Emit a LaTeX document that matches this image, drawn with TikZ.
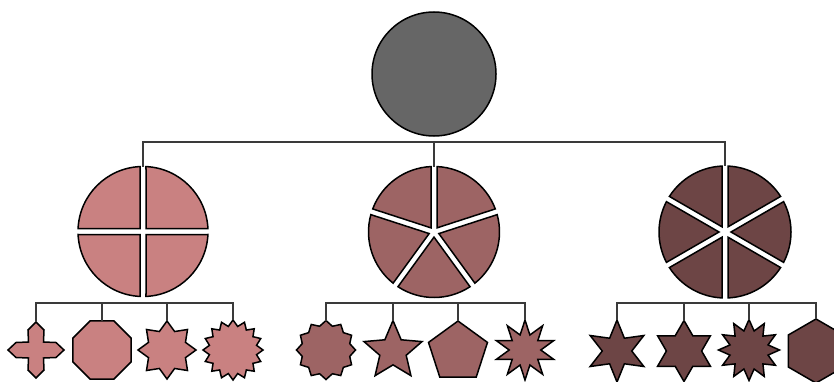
\documentclass[tikz,border=0pt]{standalone}
\usetikzlibrary{shapes.geometric}

\definecolor{rootgray}{HTML}{666666}
\definecolor{tonea}{HTML}{C98181}
\definecolor{toneb}{HTML}{9D6464}
\definecolor{tonec}{HTML}{6D4545}
\definecolor{linkgray}{HTML}{3A3A3A}

\tikzset{
  outline/.style={draw=black, line width=1.5pt, line join=miter},
  link/.style={draw=linkgray, line width=1.3pt},
  leaf/.style={outline, inner sep=0pt, outer sep=0pt},
  hub/.style={circle, inner sep=0pt, outer sep=0pt, minimum size=#1},
}

% distance between neighbouring sector edges of a split disc
\newcommand\sectorgap{6}

% split disc: #1 centre node, #2 radius, #3 sectors, #4 first cut angle, #5 fill
\newcommand\splitdisc[5]{%
  \begin{scope}[shift={(#1.center)}]
    \pgfmathsetmacro\secang{360/#3}
    \pgfmathsetmacro\gapang{asin(\sectorgap/(2*#2))}
    \pgfmathsetmacro\apex{(\sectorgap/2)/sin(\secang/2)}
    \foreach \k in {1,...,#3}{
      \pgfmathsetmacro\aone{#4+(\k-1)*\secang+\gapang}
      \pgfmathsetmacro\atwo{#4+\k*\secang-\gapang}
      \pgfmathsetmacro\amid{#4+(\k-0.5)*\secang}
      \draw[outline, fill=#5] (\amid:\apex pt) -- (\aone:#2pt)
        arc[start angle=\aone, end angle=\atwo, radius=#2pt] -- cycle;
    }
  \end{scope}}

\begin{document}
\begin{tikzpicture}[x=1pt, y=1pt]
  \fill[white] (0,0) rectangle (834,381);
  \useasboundingbox (0,0) rectangle (834,381);

  % root
  \node[outline, circle, fill=rootgray, minimum size=124pt, inner sep=0pt] (root) at (434,307) {};

  % second level
  \node[hub=130pt] (A) at (143,149.5) {};
  \node[hub=131pt] (B) at (434,149) {};
  \node[hub=132pt] (C) at (725,149) {};
  \splitdisc{A}{65}{4}{0}{tonea}
  \splitdisc{B}{65.5}{5}{90}{toneb}
  \splitdisc{C}{66}{6}{90}{tonec}

  \coordinate (rootbar) at (434,239);
  \draw[link] (A.north) -- (A.north |- rootbar) -- (C.north |- rootbar) -- (C.north);
  \draw[link] (B.north |- rootbar) -- (B.north);

  % leaves under A
  \coordinate (a1) at (36,31);
  \coordinate (a1top) at (36,59);
  \draw[outline, fill=tonea, shift={(a1)}]
    (0,28) -- (8,20) -- (7.5,8) -- (20,7.5) -- (28,0) -- (20,-7.5) -- (7.5,-8)
    -- (8,-20) -- (0,-28) -- (-8,-20) -- (-7.5,-8) -- (-20,-7.5) -- (-28,0)
    -- (-20,7.5) -- (-7.5,8) -- (-8,20) -- cycle;
  \node[leaf, regular polygon, regular polygon sides=8, minimum size=62.8pt, fill=tonea] (a2) at (102,31) {};
  \node[leaf, star, star points=8, star point ratio=1.45, minimum size=58pt, fill=tonea] (a3) at (167,31) {};
  \node[leaf, star, star points=16, star point ratio=1.25, minimum size=60pt, fill=tonea] (a4) at (233,31) {};

  % leaves under B
  \node[leaf, star, star points=12, star point ratio=1.2, minimum size=59pt, fill=toneb] (b1) at (326,31) {};
  \node[leaf, star, star points=5, star point ratio=2.2, minimum size=61pt, fill=toneb] (b2) at (393,30) {};
  \node[leaf, regular polygon, regular polygon sides=5, minimum size=62pt, fill=toneb] (b3) at (458,29) {};
  \node[leaf, star, star points=10, star point ratio=1.9, minimum size=60pt, fill=toneb] (b4) at (525,31) {};

  % leaves under C
  \node[leaf, star, star points=6, star point ratio=2.1, minimum size=62pt, fill=tonec] (c1) at (617,30) {};
  \node[leaf, star, star points=6, star point ratio=1.732, minimum size=61pt, fill=tonec] (c2) at (684,30) {};
  \node[leaf, star, star points=12, star point ratio=1.55, minimum size=61pt, fill=tonec] (c3) at (749,31) {};
  \node[leaf, regular polygon, regular polygon sides=6, shape border rotate=30, minimum size=64pt, fill=tonec] (c4) at (816,30) {};

  % third-level connectors
  \coordinate (leafbar) at (0,78);
  \draw[link] (a1top) -- (a1top |- leafbar) -- (a4.north |- leafbar) -- (a4.north);
  \draw[link] (a2.north |- leafbar) -- (a2.north);
  \draw[link] (a3.north |- leafbar) -- (a3.north);

  \draw[link] (b1.north) -- (b1.north |- leafbar) -- (b4.north |- leafbar) -- (b4.north);
  \draw[link] (b2.north |- leafbar) -- (b2.north);
  \draw[link] (b3.north |- leafbar) -- (b3.north);

  \draw[link] (c1.north) -- (c1.north |- leafbar) -- (c4.north |- leafbar) -- (c4.north);
  \draw[link] (c2.north |- leafbar) -- (c2.north);
  \draw[link] (c3.north |- leafbar) -- (c3.north);
\end{tikzpicture}
\end{document}
